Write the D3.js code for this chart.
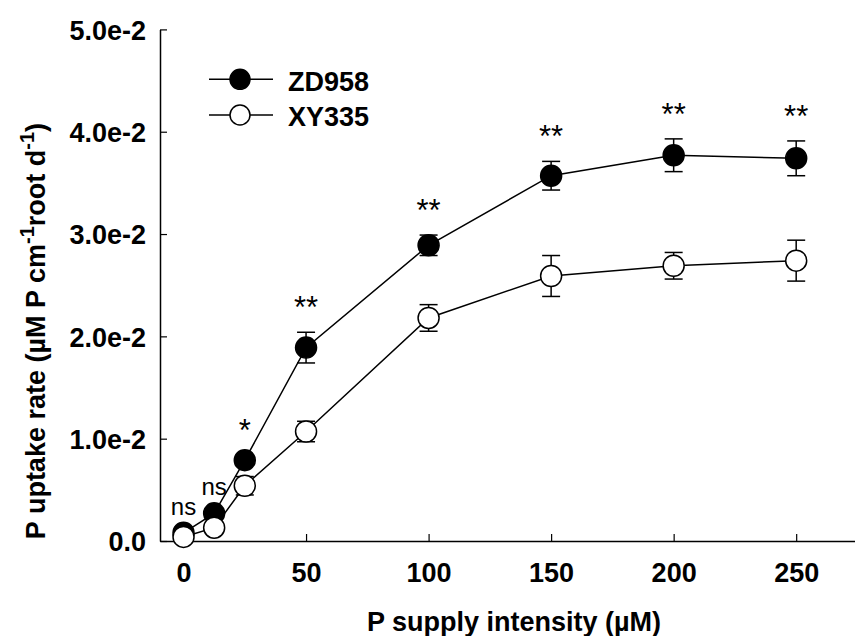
<!DOCTYPE html>
<html>
<head>
<meta charset="utf-8">
<script src="https://cdn.jsdelivr.net/npm/d3@7"></script>
<style>
  body { margin: 0; background: #fff; }
  text { font-family: "Liberation Sans", Arial, sans-serif; }
</style>
</head>
<body>
<div id="chart"></div>
<script>
// data
var supply = [0, 12.5, 25, 50, 100, 150, 200, 250];
var zd958 = [0.0008, 0.0027, 0.0079, 0.0189, 0.0289, 0.0357, 0.0377, 0.0374];
var zd958Err = [0.0003, 0.0003, 0.0005, 0.0015, 0.0010, 0.0014, 0.0016, 0.0017];
var xy335 = [0.0004, 0.0013, 0.0054, 0.0107, 0.0218, 0.0259, 0.0269, 0.0274];
var xy335Err = [0.0002, 0.0003, 0.0009, 0.0010, 0.0013, 0.0020, 0.0013, 0.0020];
var signif = ["ns", "ns", "*", "**", "**", "**", "**", "**"];
var xTicks = [0, 50, 100, 150, 200, 250];
var yTicks = [0, 0.01, 0.02, 0.03, 0.04, 0.05];
var yTickLabels = ["0.0", "1.0e-2", "2.0e-2", "3.0e-2", "4.0e-2", "5.0e-2"];

var W = 855, H = 636;
var margin = { top: 29.4, right: 0, bottom: 95, left: 160 };

var svg = d3.select("#chart")
  .append("svg")
  .attr("width", W)
  .attr("height", H);

var x = d3.scaleLinear()
  .domain([-9.6, 274])
  .range([margin.left, W - margin.right]);

var y = d3.scaleLinear()
  .domain([0, 0.05])
  .range([H - margin.bottom, margin.top]);

// axes, ticks pointing inward
var xAxis = svg.append("g")
  .attr("transform", "translate(0," + (H - margin.bottom) + ")")
  .call(d3.axisBottom(x).tickValues(xTicks).tickSize(-7).tickPadding(22).tickSizeOuter(0));

var yAxis = svg.append("g")
  .attr("transform", "translate(" + margin.left + ",0)")
  .call(d3.axisLeft(y).tickValues(yTicks).tickSize(-7).tickPadding(14).tickSizeOuter(0)
    .tickFormat(function (d, i) { return yTickLabels[i]; }));

[xAxis, yAxis].forEach(function (ax) {
  ax.select(".domain").attr("stroke", "#000").attr("stroke-width", 1.5);
  ax.selectAll(".tick line").attr("stroke", "#000").attr("stroke-width", 1.2);
  ax.selectAll(".tick text")
    .attr("fill", "#000")
    .style("font-size", "27px")
    .style("font-weight", "bold");
});
yAxis.selectAll(".tick text").attr("dy", "0.36em");

// axis titles
svg.append("text")
  .attr("x", 514)
  .attr("y", 631)
  .attr("text-anchor", "middle")
  .style("font-size", "27px")
  .style("font-weight", "bold")
  .text("P supply intensity (µM)");

var yTitle = svg.append("text")
  .attr("transform", "translate(45,331) rotate(-90)")
  .attr("text-anchor", "middle")
  .style("font-size", "27px")
  .style("font-weight", "bold");
yTitle.append("tspan").text("P uptake rate (µM P cm");
yTitle.append("tspan").attr("dy", -11).style("font-size", "20px").text("-1");
yTitle.append("tspan").attr("dy", 11).text("root d");
yTitle.append("tspan").attr("dy", -11).style("font-size", "20px").text("-1");
yTitle.append("tspan").attr("dy", 11).text(")");

var series = [
  { name: "ZD958", values: zd958, err: zd958Err, fill: "#000" },
  { name: "XY335", values: xy335, err: xy335Err, fill: "#fff" }
];

var line = d3.line()
  .x(function (d) { return x(d[0]); })
  .y(function (d) { return y(d[1]); });

// connecting lines
series.forEach(function (s) {
  svg.append("path")
    .datum(supply.map(function (c, i) { return [c, s.values[i]]; }))
    .attr("fill", "none")
    .attr("stroke", "#000")
    .attr("stroke-width", 1.5)
    .attr("d", line);
});

// error bars
var cap = 9;
series.forEach(function (s) {
  var g = svg.append("g").attr("stroke", "#000").attr("stroke-width", 1.5);
  supply.forEach(function (c, i) {
    var lo = y(s.values[i] - s.err[i]), hi = y(s.values[i] + s.err[i]);
    g.append("line").attr("x1", x(c)).attr("x2", x(c)).attr("y1", lo).attr("y2", hi);
    g.append("line").attr("x1", x(c) - cap).attr("x2", x(c) + cap).attr("y1", lo).attr("y2", lo);
    g.append("line").attr("x1", x(c) - cap).attr("x2", x(c) + cap).attr("y1", hi).attr("y2", hi);
  });
});

// markers, open circles end up on top
series.forEach(function (s) {
  svg.append("g")
    .selectAll("circle")
    .data(supply)
    .enter()
    .append("circle")
    .attr("cx", function (d) { return x(d); })
    .attr("cy", function (d, i) { return y(s.values[i]); })
    .attr("r", 10.5)
    .attr("fill", s.fill)
    .attr("stroke", "#000")
    .attr("stroke-width", 1.5);
});

// significance marks above ZD958
svg.append("g")
  .selectAll("text")
  .data(signif)
  .enter()
  .append("text")
  .attr("x", function (d, i) { return x(supply[i]); })
  .attr("y", function (d, i) { return y(zd958[i] + zd958Err[i]) - (d === "ns" ? 15 : 14); })
  .attr("text-anchor", "middle")
  .style("font-size", function (d) { return d === "ns" ? "24px" : "31px"; })
  .text(function (d) { return d; });

// legend
var legend = svg.append("g");
series.forEach(function (s, i) {
  var ly = 79.3 + i * 35.7;
  legend.append("line")
    .attr("x1", 209).attr("x2", 273).attr("y1", ly).attr("y2", ly)
    .attr("stroke", "#000").attr("stroke-width", 1.5);
  legend.append("circle")
    .attr("cx", 240).attr("cy", ly).attr("r", 10)
    .attr("fill", s.fill).attr("stroke", "#000").attr("stroke-width", 1.5);
  legend.append("text")
    .attr("x", 288).attr("y", ly + 2)
    .attr("dy", "0.35em")
    .style("font-size", "27px")
    .style("font-weight", "bold")
    .text(s.name);
});
</script>
</body>
</html>
